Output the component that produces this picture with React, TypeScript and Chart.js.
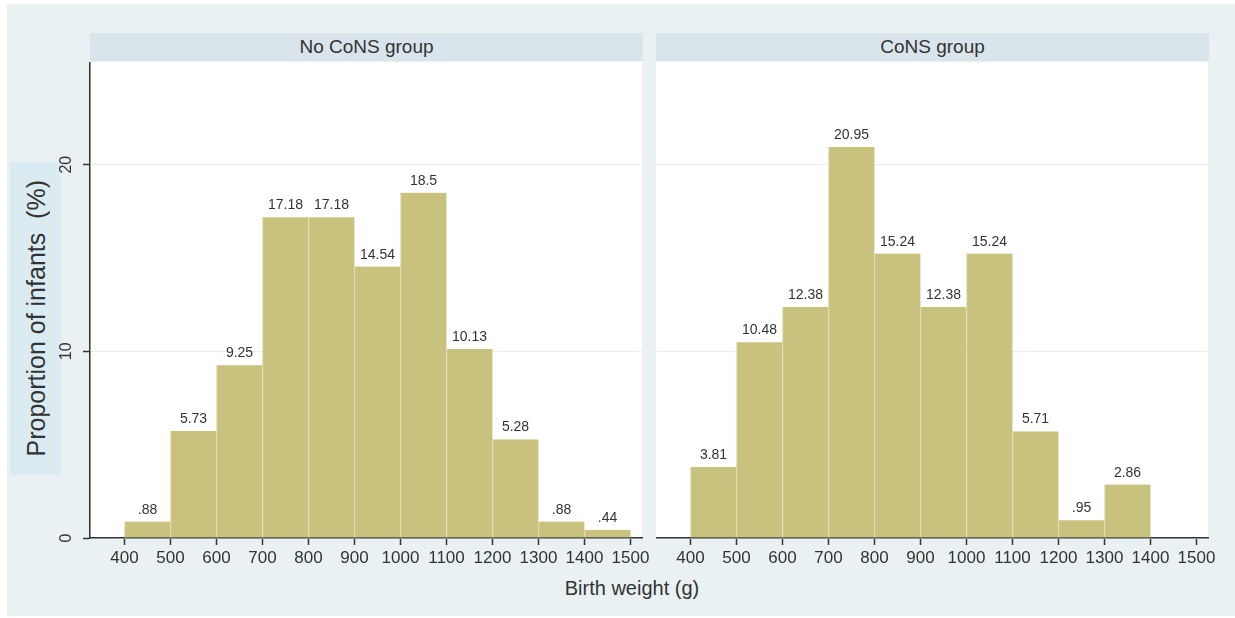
import React, { useEffect, useRef } from 'react';
import { Chart, registerables } from 'chart.js';

Chart.register(...registerables);

const FONT = '"Liberation Sans", Arial, Helvetica, sans-serif';

// Data
const binStarts = [400, 500, 600, 700, 800, 900, 1000, 1100, 1200, 1300, 1400];
const binWidth = 100;
const noConsValues = [0.88, 5.73, 9.25, 17.18, 17.18, 14.54, 18.5, 10.13, 5.28, 0.88, 0.44];
const consValues = [3.81, 10.48, 12.38, 20.95, 15.24, 12.38, 15.24, 5.71, 0.95, 2.86];
const xTickValues = [400, 500, 600, 700, 800, 900, 1000, 1100, 1200, 1300, 1400, 1500];
const yTickValues = [0, 10, 20];
const panelTitles = ['No CoNS group', 'CoNS group'];
const xTitle = 'Birth weight (g)';
const yTitle = 'Proportion of infants  (%)';

const BAR = '#c9c27f';
const BAR_EDGE = '#dedaa9';
const GRID = '#eaf0f2';
const INK = '#333333';

const fmt = (v: number) => {
  const s = String(v);
  return s.startsWith('0.') ? s.slice(1) : s;
};

function Panel({ values, showY, left, width }: { values: number[]; showY: boolean; left: number; width: number }) {
  const ref = useRef<HTMLCanvasElement>(null);
  useEffect(() => {
    const canvas = ref.current!;
    const areaBg = {
      id: 'areaBg',
      beforeDraw(chart: any) {
        const { ctx, chartArea: a } = chart;
        ctx.save();
        ctx.fillStyle = '#ffffff';
        ctx.fillRect(a.left, a.top, a.right - a.left, a.bottom - a.top);
        ctx.restore();
      },
    };
    const barLabels = {
      id: 'barLabels',
      afterDatasetsDraw(chart: any) {
        const { ctx } = chart;
        const meta = chart.getDatasetMeta(0);
        ctx.save();
        ctx.font = `14px ${FONT}`;
        ctx.fillStyle = INK;
        ctx.textAlign = 'center';
        ctx.textBaseline = 'alphabetic';
        meta.data.forEach((el: any, i: number) => {
          ctx.fillText(fmt(values[i]), el.x, el.y - 8);
        });
        ctx.restore();
      },
    };
    const yLabels = {
      id: 'yLabels',
      afterDraw(chart: any) {
        if (!showY) return;
        const { ctx, chartArea: a } = chart;
        const ys = chart.scales.y;
        ctx.save();
        ctx.font = `16px ${FONT}`;
        ctx.fillStyle = INK;
        ctx.textAlign = 'center';
        ctx.textBaseline = 'middle';
        yTickValues.forEach((v) => {
          const py = ys.getPixelForValue(v);
          ctx.save();
          ctx.translate(a.left - 23, py);
          ctx.rotate(-Math.PI / 2);
          ctx.fillText(String(v), 0, 0);
          ctx.restore();
        });
        ctx.restore();
      },
    };
    const chart = new Chart(canvas, {
      type: 'bar',
      data: {
        datasets: [
          {
            data: values.map((v, i) => ({ x: binStarts[i] + binWidth / 2, y: v })),
            backgroundColor: BAR,
            borderColor: BAR_EDGE,
            borderWidth: { left: 1, right: 0, top: 0, bottom: 0 },
            barPercentage: 1,
            categoryPercentage: 1,
          } as any,
        ],
      },
      options: {
        animation: false,
        responsive: false,
        maintainAspectRatio: false,
        devicePixelRatio: 1,
        layout: { padding: { left: 0, right: 18, top: 0, bottom: 0 } },
        plugins: { legend: { display: false }, tooltip: { enabled: false } },
        scales: {
          x: {
            type: 'linear',
            min: 325,
            max: 1525,
            offset: false,
            afterBuildTicks: (s: any) => {
              s.ticks = xTickValues.map((v) => ({ value: v }));
            },
            afterFit: (s: any) => {
              s.height = 44;
            },
            ticks: {
              font: { family: FONT, size: 17 },
              color: INK,
              padding: 3,
              maxRotation: 0,
              minRotation: 0,
              autoSkip: false,
              callback: (v: any) => String(v),
            },
            grid: {
              display: true,
              offset: false,
              drawOnChartArea: false,
              drawTicks: true,
              tickLength: 7,
              tickColor: INK,
              tickWidth: 1.5,
            },
            border: { display: true, color: INK, width: 1.5 },
          },
          y: {
            type: 'linear',
            min: 0,
            max: 25.5,
            afterBuildTicks: (s: any) => {
              s.ticks = yTickValues.map((v) => ({ value: v }));
            },
            afterFit: (s: any) => {
              s.width = showY ? 40 : 0;
            },
            ticks: { display: false },
            grid: {
              display: true,
              color: GRID,
              lineWidth: 1,
              drawTicks: showY,
              tickLength: 7,
              tickColor: INK,
              tickWidth: 1.5,
            },
            border: { display: showY, color: INK, width: 1.5 },
          },
        },
      } as any,
      plugins: [areaBg, barLabels, yLabels],
    });
    return () => chart.destroy();
  }, []);
  return (
    <canvas
      ref={ref}
      width={width}
      height={520}
      style={{ position: 'absolute', left, top: 62, width, height: 520 }}
    />
  );
}

export default function App() {
  const headerStyle = (left: number, width: number): React.CSSProperties => ({
    position: 'absolute',
    left,
    top: 33,
    width,
    height: 28,
    background: '#d9e5ea',
    color: INK,
    fontSize: 19,
    lineHeight: '28px',
    textAlign: 'center',
    fontFamily: FONT,
  });
  return (
    <div
      style={{
        position: 'absolute',
        left: 0,
        top: 0,
        width: 1235,
        height: 618,
        background: '#ffffff',
        overflow: 'hidden',
        fontFamily: FONT,
      }}
    >
      <div style={{ position: 'absolute', left: 7, top: 4, width: 1228, height: 612, background: '#e9f1f3' }} />
      <div style={headerStyle(90, 553)}>{panelTitles[0]}</div>
      <div style={headerStyle(656, 553)}>{panelTitles[1]}</div>
      <div
        style={{
          position: 'absolute',
          left: 10,
          top: 162,
          width: 51,
          height: 313,
          background: '#daebf2',
          display: 'flex',
          alignItems: 'center',
          justifyContent: 'center',
        }}
      >
        <span
          style={{
            writingMode: 'vertical-rl',
            transform: 'rotate(180deg)',
            whiteSpace: 'pre',
            fontSize: 25,
            color: INK,
            lineHeight: '28px',
          }}
        >
          {yTitle}
        </span>
      </div>
      <div
        style={{
          position: 'absolute',
          left: 532,
          top: 576,
          width: 200,
          textAlign: 'center',
          fontSize: 20,
          lineHeight: '24px',
          color: INK,
        }}
      >
        {xTitle}
      </div>
      <Panel values={noConsValues} showY={true} left={50} width={610} />
      <Panel values={consValues} showY={false} left={656} width={570} />
    </div>
  );
}
